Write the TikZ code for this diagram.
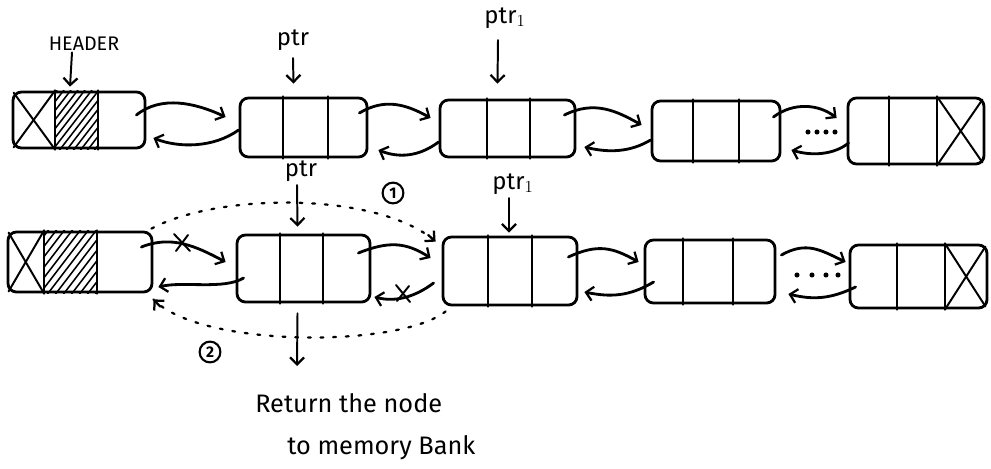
\documentclass[tikz,border=0pt]{standalone}
\usepackage{fontspec}
\setmainfont{Fira Sans}
\usetikzlibrary{arrows.meta,calc}
\begin{document}
\begin{tikzpicture}[x=0.025cm,y=-0.025cm,
  ink/.style={line width=2pt, line cap=round, line join=round},
  thin ink/.style={line width=1.4pt, line cap=round},
  box/.style 2 args={draw, ink, rounded corners=6pt, inner sep=0pt,
     minimum width=#1*0.025cm, minimum height=#2*0.025cm},
  tip/.style={-{Straight Barb[length=5pt,width=10pt,line width=1.6pt]}},
  link/.style={ink, tip},
  ptrarrow/.style={thin ink, tip},
  dotline/.style={line width=1.6pt, line cap=round, dash pattern=on 2pt off 7pt},
  lbl/.style={font=\fontsize{17}{18}\selectfont, inner sep=1pt},
  num/.style={draw, circle, line width=1.5pt, inner sep=1pt, minimum size=0.52cm, font=\fontsize{11}{12}\selectfont\bfseries},
  txt/.style={font=\fontsize{18}{20}\selectfont, inner sep=0pt, anchor=west},
]
\useasboundingbox (0,0) rectangle (991,468);
\fill[white] (0,0) rectangle (991,468);

% ---------- Row 1 ----------
\node[box={132}{56}] (h1) at (79,120) {};
\node[box={127}{59}] (a1) at (303.5,127.5) {};
\node[box={135}{57}] (b1) at (507.5,128.5) {};
\node[box={128}{60}] (c1) at (716,131) {};
\node[box={136}{66}] (d1) at (916,131) {};

% ---------- Row 2 ----------
\node[box={144}{60}] (h2) at (80,262) {};
\node[box={133}{67}] (a2) at (303.5,268.5) {};
\node[box={134}{68}] (b2) at (510,271) {};
\node[box={130}{63}] (c2) at (710,271.5) {};
\node[box={137}{63}] (d2) at (918.5,276.5) {};

% dividers
\foreach \n/\p/\q in {h1/55/98, a1/283/328, b1/487/530, c1/693/739, d1/889/937,
                      h2/44/97, a2/280/323, b2/488/532, c2/683/733, d2/897/945}{
  \draw[ink] (\p,0 |- \n.north) -- (\p,0 |- \n.south);
  \draw[ink] (\q,0 |- \n.north) -- (\q,0 |- \n.south);
}

% hatched header cells
\begin{scope}
  \clip (55,0 |- h1.north) rectangle (98,0 |- h1.south);
  \foreach \i in {-60,-53,...,50}
    \draw[line width=1.1pt] (\i+55,152) -- ++(48,-62);
\end{scope}
\begin{scope}
  \clip (44,0 |- h2.north) rectangle (97,0 |- h2.south);
  \foreach \i in {-70,-62,...,60}
    \draw[line width=1.1pt] (\i+44,296) -- ++(52,-68);
\end{scope}

% crossed (null) cells
\draw[thin ink] ($(h1.north west)+(2,2)$) -- (55,0 |- h1.south);
\draw[thin ink] ($(h1.south west)+(2,-2)$) -- (55,0 |- h1.north);
\draw[thin ink] ($(h2.north west)+(2,2)$) -- (44,0 |- h2.south);
\draw[thin ink] ($(h2.south west)+(2,-2)$) -- (44,0 |- h2.north);
\draw[thin ink] ($(d1.north east)+(-3,3)$) -- (937,0 |- d1.south);
\draw[thin ink] ($(d1.south east)+(-3,-3)$) -- (937,0 |- d1.north);
\draw[thin ink] ($(d2.north east)+(-3,3)$) -- (945,0 |- d2.south);
\draw[thin ink] ($(d2.south east)+(-3,-3)$) -- (945,0 |- d2.north);

% ---------- Row 1 links ----------
\draw[link] ($(h1.east)+(-10,-5)$) .. controls +(25,-20) and +(-30,-14) .. ($(a1.west)+(-13,-10.5)$);
\draw[link] ($(a1.west)+(0,2.5)$) .. controls +(-25,18) and +(25,10) .. ($(h1.east)+(7,18)$);
\draw[link] ($(a1.east)+(-9,-14.5)$) .. controls +(25,-15) and +(-25,-14) .. ($(b1.west)+(-8,-10.5)$);
\draw[link] ($(b1.west)+(0,13.5)$) .. controls +(-20,15) and +(20,8) .. ($(a1.east)+(10,22.5)$);
\draw[link] ($(b1.east)+(-12,-13.5)$) .. controls +(30,-15) and +(-25,-14) .. ($(c1.west)+(-9,-6)$);
\draw[link] ($(c1.west)+(0,9)$) .. controls +(-20,12) and +(25,6) .. ($(b1.east)+(8,18.5)$);
\draw[link] ($(c1.east)+(-8,-14)$) .. controls +(20,-15) and +(-18,-14) .. ($(d1.west)+(-10,-13)$);
\draw[link] ($(d1.west)+(2,12)$) .. controls +(-15,12) and +(20,6) .. ($(c1.east)+(10,19)$);
\foreach \x in {808,817,826,835} \fill (\x,132) circle (1.8pt);

% ---------- Row 2 links ----------
\draw[link] ($(h2.east)+(-12,-15)$) .. controls +(30,-12) and +(-30,-16) .. ($(a2.west)+(-10,-6.5)$);
\draw[thin ink] (174,234) -- (190,251) (176,251) -- (188,235);
\draw[link] ($(a2.west)+(8,9.5)$) .. controls +(-20,12) and +(25,-6) .. ($(h2.east)+(5,25)$);
\draw[link] ($(a2.east)+(-13,-15.5)$) .. controls +(30,-12) and +(-25,-16) .. ($(b2.west)+(-11,-13)$);
\draw[link] ($(b2.west)+(-8,12)$) .. controls +(-20,15) and +(20,5) .. ($(a2.east)+(3,28.5)$);
\draw[thin ink] (396,285) -- (410,302) (397,301) -- (409,286);
\draw[link] ($(b2.east)+(-10,-14)$) .. controls +(30,-14) and +(-25,-14) .. ($(c2.west)+(-5,-9.5)$);
\draw[link] ($(c2.west)+(10,10.5)$) .. controls +(-25,15) and +(25,5) .. ($(b2.east)+(6,21)$);
\draw[link] ($(c2.east)+(5,-16.5)$) .. controls +(25,-14) and +(-25,-12) .. ($(d2.west)+(-3,-14.5)$);
\draw[link] ($(d2.west)+(7,10.5)$) .. controls +(-25,12) and +(25,6) .. ($(c2.east)+(12,22.5)$);
\foreach \x in {797,812,826,838} \fill (\x,275) circle (1.8pt);

% ---------- Dotted re-links ----------
\coordinate (e1) at ($(b2.north west)+(-6,6)$);
\coordinate (e2) at ($(h2.south east)+(0,6)$);
\draw[dotline] ($(h2.north east)+(-2,-2)$) .. controls (220,192) and (380,192) .. (e1);
\draw[ink, line width=1.6pt, tip] ($(e1)!7pt!(380,192)$) -- (e1);
\draw[dotline] ($(b2.south west)+(4,5)$) .. controls (400,348) and (200,348) .. (e2);
\draw[ink, line width=1.6pt, tip] ($(e2)!7pt!(200,348)$) -- (e2);
\node[num] (n1) at (393,193) {1};
\node[num] (n2) at (210,352) {2};

% ---------- Labels ----------
\node[lbl, font=\fontsize{14}{15}\selectfont] (hdr) at (84,44) {HEADER};
\draw[ptrarrow] (hdr.south -| 72,0) -- ($(70,0 |- h1.north)+(0,-4)$);

\node[lbl] (p1) at (293,40) {ptr};
\draw[ptrarrow] ($(p1.south)+(0,6)$) -- ($(a1.north)+(-10,-13)$);
\node[lbl] (q1) at (505,18) {ptr$_1$};
\draw[ptrarrow] ($(q1.south)+(-7,10)$) -- ($(b1.north)+(-10,-15)$);

\node[lbl] (p2) at (301,171) {ptr};
\draw[ptrarrow] ($(p2.south)+(-4,2)$) -- ($(a2.north)+(-6,-7)$);
\node[lbl] (q2) at (513,184) {ptr$_1$};
\draw[ptrarrow] ($(q2.south)+(-4,2)$) -- ($(b2.north)+(-1,-3)$);

\coordinate (ret) at (297,366);
\draw[ptrarrow] ($(a2.south)+(-6,10)$) -- (ret);
\node[txt] (t1) at (255,403) {Return the node};
\node[txt] (t2) at (287,448) {to memory Bank};
\end{tikzpicture}
\end{document}
